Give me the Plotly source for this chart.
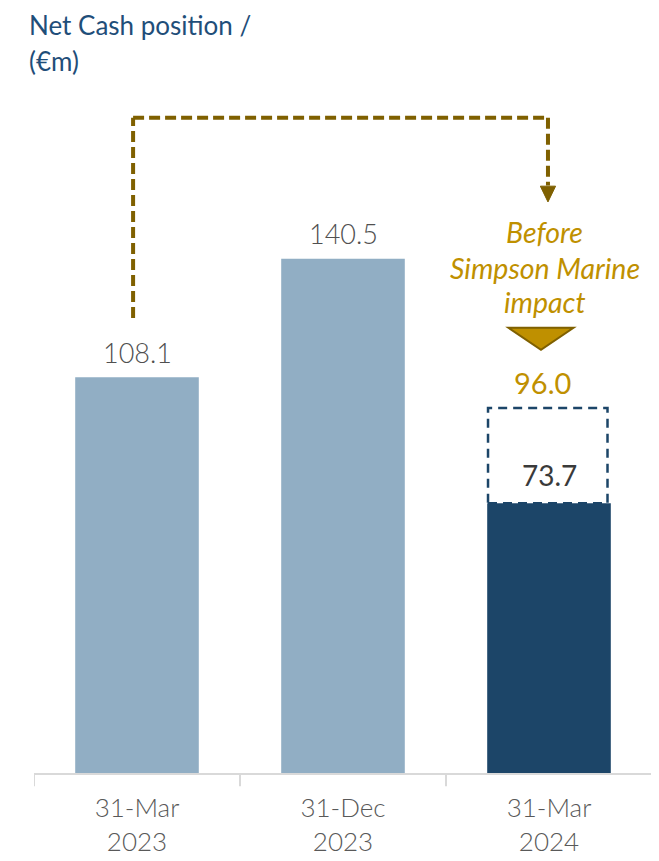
import plotly.graph_objects as go

categories = ["31-Mar<br>2023", "31-Dec<br>2023", "31-Mar<br>2024"]
values = [108.1, 140.5, 73.7]
value_labels = ["108.1", "140.5", "73.7"]
before_impact_value = 96.0
before_impact_label = "96.0"
note_lines = ["Before", "Simpson Marine", "impact"]
bar_colors = ["#91AEC4", "#91AEC4", "#1C4568"]

FONT = "Lato"
GOLD = "#BF9000"
DARK_GOLD = "#7F6000"
x = [0, 1, 2]

fig = go.Figure()
fig.add_trace(go.Bar(
    x=x, y=values, width=0.6, marker=dict(color=bar_colors, line=dict(width=0)),
    hoverinfo="skip", showlegend=False,
))

# dashed box for before-impact value
box_top = before_impact_value + 3.7
fig.add_shape(type="rect", x0=2 - 0.296, x1=2 + 0.284, y0=values[2], y1=box_top,
              line=dict(color="#1C4568", width=2.5, dash="9px,6px"), fillcolor="rgba(0,0,0,0)", layer="below")

# value labels
for i in range(2):
    fig.add_annotation(x=x[i], y=values[i], yshift=25, text=value_labels[i], showarrow=False,
                       yanchor="middle", font=dict(family=FONT, size=27, color="#505050", weight=300))
fig.add_annotation(x=2, y=values[2], yshift=28, text=value_labels[2], showarrow=False,
                   yanchor="middle", font=dict(family=FONT, size=28, color="#3A3A3A", weight=400))
fig.add_annotation(x=1.97, y=box_top, yshift=26, text=before_impact_label, showarrow=False,
                   yanchor="middle", font=dict(family=FONT, size=29, color=GOLD, weight=400))

# italic note
for line, yy in zip(note_lines, [147.8, 138.0, 128.7]):
    fig.add_annotation(x=1.98, y=yy, text=f"<i>{line}</i>", showarrow=False, yanchor="middle",
                       font=dict(family=FONT, size=28.5, color=GOLD, weight=400))

# triangle
tx = 1.961
fig.add_shape(type="path", path=f"M {tx-0.158},121.6 L {tx+0.158},121.6 L {tx},115.6 Z",
              fillcolor=GOLD, line=dict(color=DARK_GOLD, width=2))

# dashed connector arrow
y_top = 179
ldash = dict(color=DARK_GOLD, width=4, dash="11px,5px")
fig.add_shape(type="line", x0=-0.019, x1=-0.019, y0=124.3, y1=y_top, line=ldash)
fig.add_shape(type="line", x0=-0.019, x1=1.995, y0=y_top, y1=y_top, line=ldash)
fig.add_shape(type="line", x0=1.995, x1=1.995, y0=y_top, y1=160.5, line=ldash)
fig.add_shape(type="path", path=f"M {1.995-0.037},160.3 L {1.995+0.037},160.3 L 1.995,156 Z",
              fillcolor=DARK_GOLD, line=dict(color=DARK_GOLD, width=1))

# title
fig.add_annotation(xref="paper", yref="paper", x=-0.0113, y=1.0, yshift=55, xanchor="left", yanchor="middle",
                   text="Net Cash position /", showarrow=False,
                   font=dict(family=FONT, size=26, color="#1F4E79"))
fig.add_annotation(xref="paper", yref="paper", x=-0.0113, y=1.0, yshift=19, xanchor="left", yanchor="middle",
                   text="(€m)", showarrow=False,
                   font=dict(family=FONT, size=26, color="#1F4E79"))

fig.update_layout(
    width=659, height=861,
    margin=dict(l=26, r=15, t=72, b=96, autoexpand=False),
    paper_bgcolor="white", plot_bgcolor="white",
    xaxis=dict(range=[-0.5, 2.5], tickvals=x, ticktext=categories, showgrid=False, automargin=False,
               showline=True, linecolor="#D9D9D9", linewidth=2, ticks="", ticklabelstandoff=11,
               tickfont=dict(family=FONT, size=26, color="#595959", weight=300),
               zeroline=False, fixedrange=True),
    yaxis=dict(range=[0, 189.3], visible=False, fixedrange=True, automargin=False),
    showlegend=False,
)

# category separator ticks
for b in [-0.5, 0.5, 1.5, 2.5]:
    fig.add_shape(type="line", xref="x", yref="paper", x0=b, x1=b, y0=0, y1=-0.019,
                  line=dict(color="#D9D9D9", width=2))

fig.write_html("out.html")
